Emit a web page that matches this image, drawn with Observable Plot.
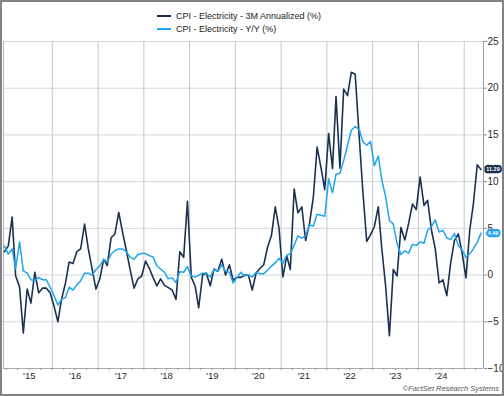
<!DOCTYPE html>
<html>
<head>
<meta charset="utf-8">
<script src="https://cdn.jsdelivr.net/npm/d3@7"></script>
<script src="https://cdn.jsdelivr.net/npm/@observablehq/plot@0.6"></script>
<style>
html,body{margin:0;padding:0;background:#fff;}
#wrap{position:relative;width:504px;height:396px;overflow:hidden;font-family:"Liberation Sans",Arial,sans-serif;background:#fff;}
#legend{position:absolute;left:0;top:0;width:504px;height:38px;}
.item{position:absolute;left:157px;font-size:9px;color:#222;display:flex;align-items:center;height:12px;white-space:nowrap;}
.sw{width:14px;height:2px;margin-right:5px;}
#chart{position:absolute;left:0;top:38px;}
#caption{position:absolute;right:5px;top:384px;font-size:7.5px;font-style:italic;color:#555;line-height:10px;}
#border{position:absolute;left:0;top:0;width:504px;height:396px;border:2px solid #828282;box-sizing:border-box;pointer-events:none;}
</style>
</head>
<body>
<div id="wrap">
  <div id="legend"></div>
  <div id="chart"></div>
  <div id="caption">©FactSet Research Systems</div>
  <div id="border"></div>
</div>
<script>
// ---- data (monthly, Dec 2014 .. May 2025) ----
const startMonth = "2014-12";
const seriesNames = ["CPI - Electricity - 3M Annualized (%)", "CPI - Electricity - Y/Y (%)"];
const seriesColors = ["#1b3150", "#1fa4ef"];

const annualized3m = [
  2.5,
  3.1, 6.2, -0.1, -1.25, -6.2, -1.5, -3.0, 0.3, -1.9, -1.4, -1.4, -1.9,
  -3.3, -5.0, -2.6, -0.9, 1.4, 1.25, 2.5, 2.8, 5.45, 2.8, 0.6, -1.5,
  -0.4, 1.7, 1.0, 4.0, 4.4, 6.7, 4.6, 2.6, 0.5, -1.4, -0.4, -0.1,
  1.5, 0.7, -0.25, -1.15, -0.4, -1.1, -1.35, -1.6, -2.6, 2.5, 1.9, 7.9,
  -0.25, -1.2, -3.5, 0.0, 0.2, -1.15, 0.65, 0.4, 1.7, 0.0, 1.1, -0.55,
  -0.25, -0.25, 0.0, 0.0, -1.6, 0.2, 0.7, 1.1, 3.0, 4.2, 7.3, 5.0,
  -0.2, 2.05, 0.6, 9.2, 6.65, 7.3, 3.7, 5.5, 8.35, 13.7, 11.5, 9.15,
  15.15, 11.4, 19.1, 11.45, 19.9, 19.2, 21.7, 21.5, 15.0, 9.0, 3.6, 4.3,
  5.2, 7.3, 2.9, -1.2, -6.5, 0.6, -0.1, 5.1, 3.75, 5.5, 7.6, 7.0,
  10.5, 7.45, 8.0, 4.8, 2.8, -0.85, -0.5, -2.2, 1.3, 3.7, 4.4, 2.4,
  -0.3, 4.9, 7.6, 11.8, 11.29
];

const yearOverYear = [
  3.1,
  2.25, 2.8, 0.65, 3.55, 0.45, 0.2, -0.5, -0.6, -0.25, -0.5, -0.5, -1.3,
  -2.2, -3.2, -2.6, -2.4, -1.3, -1.6, -1.05, -0.6, 0.2, 0.2, 0.0, 0.6,
  1.0, 1.65, 1.4, 2.25, 2.6, 2.8, 2.8, 2.5, 1.9, 1.7, 2.2, 2.3,
  2.3, 2.07, 1.95, 1.0, 0.65, 0.3, -0.4, -0.3, -0.8, 0.35, 0.3, 0.9,
  -0.1, -0.2, 0.0, 0.2, 0.2, -0.2, 0.6, 0.4, 1.1, 0.4, 0.3, -0.85,
  -0.25, 0.3, -0.1, 0.0, -0.2, 0.3, 0.15, 0.15, 0.55, 0.95, 1.3, 1.8,
  1.25, 2.15, 2.25, 3.2, 4.2, 3.95, 4.2, 5.35, 5.25, 6.5, 6.4, 6.3,
  10.3, 8.8, 10.8, 10.9, 12.25, 13.9, 15.5, 15.9, 15.6, 14.3, 13.9, 14.3,
  11.7, 12.75, 10.2, 8.4, 5.85, 5.45, 3.4, 2.2, 2.6, 2.35, 3.3, 3.15,
  3.55, 3.4, 4.8, 5.2, 5.9, 4.6, 4.8, 4.0, 3.8, 4.45, 3.15, 2.7,
  1.9, 2.3, 2.8, 3.5, 4.49
];

const yTicks = [-10, -5, 0, 5, 10, 15, 20, 25];
const labelYears = [2015, 2016, 2017, 2018, 2019, 2020, 2021, 2022, 2023, 2024];
const yearLabels = ["'15", "'16", "'17", "'18", "'19", "'20", "'21", "'22", "'23", "'24"];
const gridYears = [2016, 2017, 2018, 2019, 2020, 2021, 2022, 2023, 2024, 2025];

// ---- build table ----
const start = new Date(startMonth + "-01T00:00:00Z");
const rows = annualized3m.map((v, i) => ({
  date: d3.utcDay.offset(d3.utcMonth.offset(start, i), 14),
  ann: v,
  yoy: yearOverYear[i]
}));
const last = rows[rows.length - 1];

const xDomain = [new Date(Date.UTC(2014, 11, 8)), new Date(Date.UTC(2025, 5, 4))];
const gridDates = gridYears.map(y => new Date(Date.UTC(y, 0, 1)));
const labelDates = labelYears.map(y => new Date(Date.UTC(y, 6, 2)));
const quarterDates = d3.utcMonth.every(3).range(xDomain[0], xDomain[1]);

// ---- legend ----
const legend = document.getElementById("legend");
seriesNames.forEach((name, i) => {
  const it = document.createElement("div");
  it.className = "item";
  it.style.top = (10 + i * 13.3) + "px";
  const sw = document.createElement("span");
  sw.className = "sw";
  sw.style.background = seriesColors[i];
  const tx = document.createElement("span");
  tx.textContent = name;
  it.appendChild(sw); it.appendChild(tx);
  legend.appendChild(it);
});

// ---- chart ----
const chart = Plot.plot({
  width: 504,
  height: 346,
  marginTop: 3,
  marginBottom: 16,
  marginLeft: 3,
  marginRight: 21,
  style: {fontFamily: "Liberation Sans, Arial, sans-serif", background: "transparent", color: "#2a2a2a", overflow: "visible"},
  x: {type: "utc", domain: xDomain},
  y: {domain: [-10, 25]},
  marks: [
    Plot.ruleY(yTicks, {stroke: "#d3d6da", strokeWidth: 1}),
    Plot.ruleX(gridDates, {stroke: "#c4c8cd", strokeWidth: 1}),
    Plot.ruleX([xDomain[0]], {stroke: "#b0b4b8", strokeWidth: 1}),
    Plot.ruleX([xDomain[1]], {stroke: "#9a9ea2", strokeWidth: 1}),
    Plot.ruleY([-10], {stroke: "#a8acb0", strokeWidth: 1}),
    Plot.axisY({anchor: "right", ticks: yTicks, tickSize: 3, tickPadding: 1, fontSize: 10, stroke: "#888", label: null}),
    Plot.axisX({ticks: quarterDates, tickSize: 2, tickFormat: () => "", stroke: "#999", label: null}),
    Plot.axisX({ticks: labelDates, tickSize: 0, tickPadding: 3.5, fontSize: 9.5, tickFormat: d => yearLabels[labelYears.indexOf(d.getUTCFullYear())], label: null}),
    Plot.line(rows, {x: "date", y: "ann", stroke: seriesColors[0], strokeWidth: 1.6}),
    Plot.line(rows, {x: "date", y: "yoy", stroke: seriesColors[1], strokeWidth: 1.5}),
    Plot.text([last], {x: "date", y: "ann", text: d => d.ann.toFixed(2), dx: 12, fontSize: 5.5, fontWeight: "bold", fill: "white", stroke: seriesColors[0], strokeWidth: 4.5, strokeLinejoin: "round", paintOrder: "stroke"}),
    Plot.text([last], {x: "date", y: "yoy", text: d => d.yoy.toFixed(2), dx: 12, fontSize: 5.5, fontWeight: "bold", fill: "white", stroke: seriesColors[1], strokeWidth: 4.5, strokeLinejoin: "round", paintOrder: "stroke"})
  ]
});
document.getElementById("chart").appendChild(chart);
</script>
</body>
</html>
